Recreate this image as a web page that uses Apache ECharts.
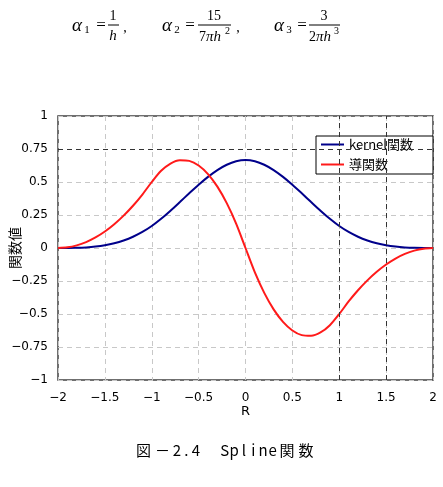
<!DOCTYPE html>
<html>
<head>
	<meta charset="utf-8">
	<title>Spline関数</title>
	<script src="https://cdn.jsdelivr.net/npm/echarts@6/dist/echarts.min.js"></script>
</head>
<body style="margin:0;background:#fff">
	<div id="main" style="width: 443px;height: 487px"></div>
	<script type="text/javascript">
		// R の値（-2 ～ 2, 0.1刻み）
		var rValues = [-2.0, -1.9, -1.8, -1.7, -1.6, -1.5, -1.4, -1.3, -1.2, -1.1,
			-1.0, -0.9, -0.8, -0.7, -0.6, -0.5, -0.4, -0.3, -0.2, -0.1,
			0.0, 0.1, 0.2, 0.3, 0.4, 0.5, 0.6, 0.7, 0.8, 0.9,
			1.0, 1.1, 1.2, 1.3, 1.4, 1.5, 1.6, 1.7, 1.8, 1.9, 2.0];
		// kernel関数
		var kernelValues = [0, 0.0002, 0.0013, 0.0045, 0.0107, 0.0208, 0.036, 0.0572, 0.0853, 0.1215,
			0.1667, 0.2212, 0.2827, 0.3482, 0.4147, 0.4792, 0.5387, 0.5902, 0.6307, 0.6572,
			0.6667, 0.6572, 0.6307, 0.5902, 0.5387, 0.4792, 0.4147, 0.3482, 0.2827, 0.2212,
			0.1667, 0.1215, 0.0853, 0.0572, 0.036, 0.0208, 0.0107, 0.0045, 0.0013, 0.0002, 0];
		// 導関数
		var derivValues = [0, 0.005, 0.02, 0.045, 0.08, 0.125, 0.18, 0.245, 0.32, 0.405,
			0.5, 0.585, 0.64, 0.665, 0.66, 0.625, 0.56, 0.465, 0.34, 0.185,
			0, -0.185, -0.34, -0.465, -0.56, -0.625, -0.66, -0.665, -0.64, -0.585,
			-0.5, -0.405, -0.32, -0.245, -0.18, -0.125, -0.08, -0.045, -0.02, -0.005, 0];
		var seriesNames = ['kernel関数', '導関数'];

		var pairs = function (ys) {
			return rValues.map(function (x, i) { return [x, ys[i]]; });
		};
		var minusFmt = function (v) { return String(v).replace('-', '−'); };

		var serif = '"Liberation Serif", "DejaVu Serif", serif';
		var eqText = function (x, y, s, size, italic, align) {
			return {
				type: 'text', x: x, y: y,
				style: {
					text: s, fill: '#000', fontFamily: serif, fontSize: size,
					fontStyle: italic ? 'italic' : 'normal',
					align: align || 'center', verticalAlign: 'middle'
				}
			};
		};
		var bar = function (x1, x2, y) {
			return { type: 'line', shape: { x1: x1, y1: y, x2: x2, y2: y }, style: { stroke: '#000', lineWidth: 1 } };
		};

		var graphics = [
			// α1 = 1/h
			eqText(77, 26, 'α', 19, true), eqText(87, 30, '1', 11),
			eqText(101, 26, '=', 17), eqText(113, 16, '1', 14), bar(108, 119, 25), eqText(113, 36, 'h', 15, true),
			eqText(125, 28, ',', 14),
			// α2 = 15/(7πh²)
			eqText(167, 26, 'α', 19, true), eqText(177, 30, '2', 11),
			eqText(190, 26, '=', 17), eqText(214, 16, '15', 14), bar(198, 231, 25),
			eqText(199, 37, '7', 14, false, 'left'), eqText(206, 37, 'πh', 15, true, 'left'), eqText(225, 31, '2', 10, false, 'left'),
			eqText(238, 28, ',', 14),
			// α3 = 3/(2πh³)
			eqText(279, 26, 'α', 19, true), eqText(289, 30, '3', 11),
			eqText(302, 26, '=', 17), eqText(324, 16, '3', 14), bar(309, 340, 25),
			eqText(309, 37, '2', 14, false, 'left'), eqText(316, 37, 'πh', 15, true, 'left'), eqText(334, 31, '3', 10, false, 'left')
		];

		// 図番号（等幅風に一文字ずつ配置）
		var caption = '図－2.4　Spline関数';
		var cx = 134;
		caption.split('').forEach(function (ch) {
			var full = ch.charCodeAt(0) > 255;
			var w = full ? 19 : 9.6;
			graphics.push({
				type: 'text', x: cx + w / 2, y: 450,
				style: {
					text: ch, fill: '#000', fontSize: 15,
					fontFamily: '"Noto Sans CJK JP", "DejaVu Sans", sans-serif',
					align: 'center', verticalAlign: 'middle'
				}
			});
			cx += w;
		});

		var myChart = echarts.init(document.getElementById('main'));
		var option = {
			animation: false,
			backgroundColor: '#fff',
			textStyle: { fontFamily: '"DejaVu Sans", sans-serif' },
			grid: {
				left: 58, right: 10, top: 116, bottom: 107,
				containLabel: false, outerBoundsMode: 'none',
				show: true, borderColor: '#404040', borderWidth: 1.5
			},
			legend: {
				orient: 'vertical',
				left: 316, top: 136,
				itemWidth: 23, itemHeight: 14, itemGap: 7,
				padding: [2, 20, 3, 4],
				backgroundColor: '#fff',
				borderColor: '#000', borderWidth: 1,
				itemStyle: { opacity: 0 },
				textStyle: { fontSize: 13, color: '#000', fontFamily: '"Noto Sans CJK JP", sans-serif' },
				data: seriesNames
			},
			xAxis: {
				type: 'value', min: -2, max: 2, interval: 0.5,
				name: 'R', nameLocation: 'middle', nameGap: 25, nameMoveOverlap: false,
				nameTextStyle: { fontSize: 13, color: '#000' },
				axisLine: { show: false },
				axisTick: { show: false },
				axisLabel: { color: '#000', fontSize: 12, margin: 12, formatter: minusFmt },
				splitLine: { show: true, lineStyle: { color: '#c8c8c8', type: [5, 4] } }
			},
			yAxis: {
				type: 'value', min: -1, max: 1, interval: 0.25,
				name: '関数値', nameLocation: 'middle', nameGap: 36, nameRotate: 90, nameMoveOverlap: false,
				nameTextStyle: { fontSize: 14, color: '#000', fontFamily: '"Noto Sans CJK JP", sans-serif' },
				axisLine: { show: false },
				axisTick: { show: false },
				axisLabel: { color: '#000', fontSize: 12, margin: 10, formatter: minusFmt },
				splitLine: { show: true, lineStyle: { color: '#c8c8c8', type: [5, 4] } }
			},
			series: [
				{
					name: seriesNames[0], type: 'line', data: pairs(kernelValues),
					symbol: 'none', smooth: 0.3,
					lineStyle: { color: '#00008b', width: 2 },
					itemStyle: { color: '#00008b' },
					markLine: {
						silent: true, symbol: 'none', label: { show: false },
						lineStyle: { color: '#333', type: [5, 4], width: 1 },
						data: [{ yAxis: 0.75 }, { xAxis: 1 }, { xAxis: 1.5 }]
					}
				},
				{
					name: seriesNames[1], type: 'line', data: pairs(derivValues),
					symbol: 'none', smooth: 0.3,
					lineStyle: { color: '#ff1a1a', width: 2 },
					itemStyle: { color: '#ff1a1a' }
				}
			],
			graphic: graphics
		};
		myChart.setOption(option);
	</script>
</body>
</html>
